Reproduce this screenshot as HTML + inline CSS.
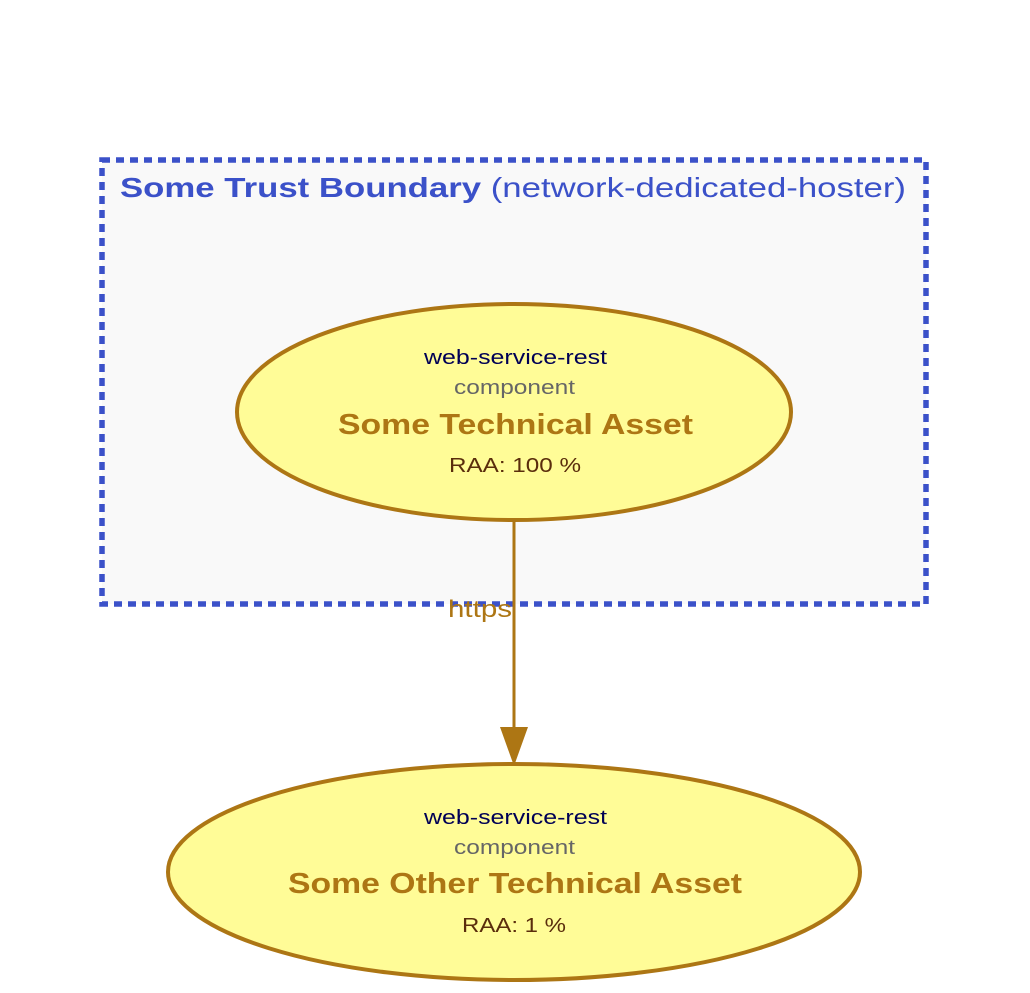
<!DOCTYPE html>
<html><head><style>html,body{margin:0;padding:0;background:#fff}</style></head><body>
<svg width="1030" height="988" viewBox="0 0 1030 988" xmlns="http://www.w3.org/2000/svg" font-family="Liberation Sans, Arial, sans-serif">
<rect x="102" y="160" width="824" height="444" fill="#f9f9f9" stroke="#3b51c9" stroke-width="5.5" stroke-dasharray="8,6"/>
<text x="120" y="197" font-size="28" fill="#3b51c9" textLength="786" lengthAdjust="spacingAndGlyphs"><tspan font-weight="bold">Some Trust Boundary</tspan> (network-dedicated-hoster)</text>
<ellipse cx="514" cy="412" rx="277" ry="108" fill="#fffc97" stroke="#ad7614" stroke-width="4"/>
<text x="424" y="364" font-size="20" fill="#000055" textLength="183" lengthAdjust="spacingAndGlyphs">web-service-rest</text>
<text x="454" y="394" font-size="20" fill="#666666" textLength="121" lengthAdjust="spacingAndGlyphs">component</text>
<text x="338" y="434" font-size="29" font-weight="bold" fill="#ad7614" textLength="355" lengthAdjust="spacingAndGlyphs">Some Technical Asset</text>
<text x="449" y="472" font-size="20" fill="#5a2d0c" textLength="132" lengthAdjust="spacingAndGlyphs">RAA: 100 %</text>
<line x1="514" y1="520" x2="514" y2="742" stroke="#ad7614" stroke-width="3"/>
<polygon points="500,727 528,727 514,766" fill="#ad7614"/>
<text x="448" y="617" font-size="24" fill="#ad7614" textLength="64" lengthAdjust="spacingAndGlyphs">https</text>
<ellipse cx="514" cy="872" rx="346" ry="108" fill="#fffc97" stroke="#ad7614" stroke-width="4"/>
<text x="424" y="824" font-size="20" fill="#000055" textLength="183" lengthAdjust="spacingAndGlyphs">web-service-rest</text>
<text x="454" y="854" font-size="20" fill="#666666" textLength="121" lengthAdjust="spacingAndGlyphs">component</text>
<text x="288" y="893" font-size="29" font-weight="bold" fill="#ad7614" textLength="454" lengthAdjust="spacingAndGlyphs">Some Other Technical Asset</text>
<text x="462" y="932" font-size="20" fill="#5a2d0c" textLength="104" lengthAdjust="spacingAndGlyphs">RAA: 1 %</text>
</svg>
</body></html>
